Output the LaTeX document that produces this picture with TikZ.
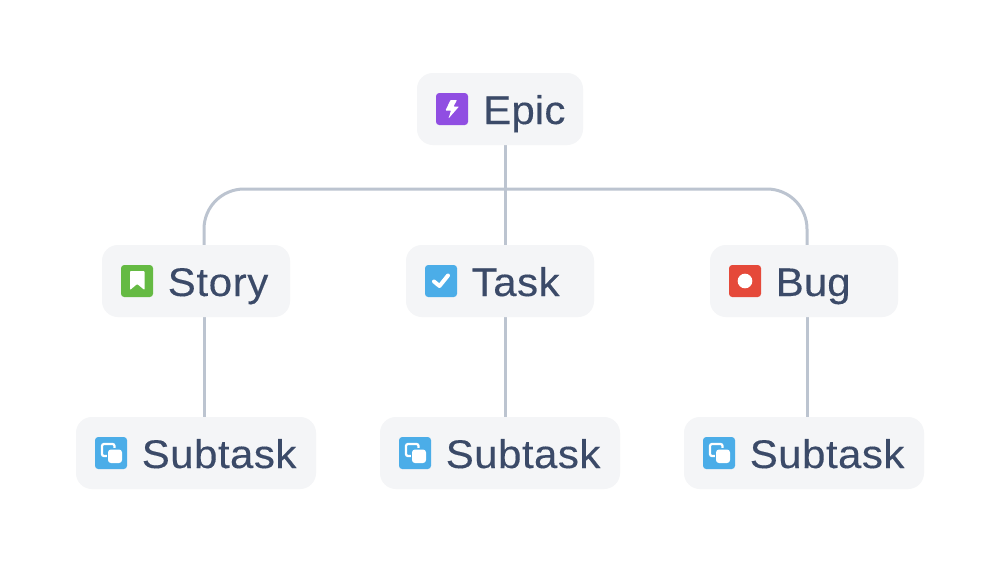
\documentclass[tikz,border=0pt]{standalone}
\usepackage{fontspec}
\setmainfont[FakeStretch=1.05,LetterSpace=1.2,FakeBold=0.25]{Liberation Sans}
\definecolor{boxfill}{HTML}{F4F5F7}
\definecolor{wire}{HTML}{BCC4D0}
\definecolor{ink}{HTML}{3B4A68}
\definecolor{epicc}{HTML}{904EE2}
\definecolor{storyc}{HTML}{65BA43}
\definecolor{taskc}{HTML}{4BADE8}
\definecolor{bugc}{HTML}{E5493A}
\tikzset{
  x=0.75pt,y=-0.75pt,
  card/.style={draw=none,fill=boxfill,rounded corners=12pt,inner sep=0pt,minimum height=54pt},
  wireline/.style={draw=wire,line width=2.25pt},
  badge/.style={draw=none,rounded corners=2.4pt,inner sep=0pt,minimum size=24pt},
  caption/.style={anchor=base west,inner sep=0pt,text=ink,font=\fontsize{30}{36}\selectfont},
  glyph/.style={fill=white,draw=none},
}
\begin{document}
\begin{tikzpicture}
\useasboundingbox (0,0) rectangle (1000,565);
\fill[white] (0,0) rectangle (1000,565);
% ports
\coordinate (epicport) at (505,145);
\coordinate (storytop) at (204,245);
\coordinate (storybot) at (204,317);
\coordinate (tasktop) at (505,245);
\coordinate (taskbot) at (505,317);
\coordinate (bugtop) at (807,245);
\coordinate (bugbot) at (807,317);
\coordinate (subatop) at (204,417);
\coordinate (subbtop) at (505,417);
\coordinate (subctop) at (807,417);
% connectors
\draw[wireline] (epicport) -- (tasktop);
\draw[wireline,rounded corners=30pt] (storytop) -- (204,189) -- (807,189) -- (bugtop);
\draw[wireline] (storybot) -- (subatop);
\draw[wireline] (taskbot) -- (subbtop);
\draw[wireline] (bugbot) -- (subctop);
% cards
\node[card,minimum width=124.5pt] (epic) at (500,109) {};
\node[card,minimum width=141pt] (story) at (196,281) {};
\node[card,minimum width=141pt] (task) at (500,281) {};
\node[card,minimum width=141pt] (bug) at (804,281) {};
\node[card,minimum width=180pt] (suba) at (196,453) {};
\node[card,minimum width=180pt] (subb) at (500,453) {};
\node[card,minimum width=180pt] (subc) at (804,453) {};
% labels
\node[caption] (epict) at (483,124) {\addfontfeatures{LetterSpace=0.4}Epic};
\node[caption] (storyt) at (167.5,296) {\addfontfeatures{LetterSpace=1.6}Story};
\node[caption] (taskt) at (471.5,296) {Task};
\node[caption] (bugt) at (775.5,296) {\addfontfeatures{LetterSpace=0.2}Bug};
\node[caption] (subat) at (141.5,468) {Subtask};
\node[caption] (subbt) at (445.5,468) {Subtask};
\node[caption] (subct) at (749.5,468) {Subtask};
% epic icon
\node[badge,fill=epicc] (epici) at (452,109) {};
\fill[glyph,rounded corners=0.5pt] (450.5,100) -- (445.5,110.5) -- (451,110.5) -- (448.5,118.5) -- (459,106.5) -- (453.5,106.5) -- (457,100) -- cycle;
% story icon
\node[badge,fill=storyc] (storyi) at (137,281) {};
\fill[glyph,rounded corners=0.6pt] (130,271) -- (144.5,271) -- (144.5,290) -- (137.2,284) -- (130,290) -- cycle;
% task icon
\node[badge,fill=taskc] (taski) at (441,281) {};
\draw[white,line width=3pt,line cap=round,line join=round] (434,281.5) -- (439.5,286) -- (448,275.5);
% bug icon
\node[badge,fill=bugc] (bugi) at (745,281) {};
\fill[white] (745,281) circle (5.5pt);
% subtask icons
\foreach \nm/\cx in {subai/111,subbi/415,subci/719}{
  \node[badge,fill=taskc] (\nm) at (\cx,453) {};
  \begin{scope}[shift={(\cx,453)}]
    \draw[white,line width=1.7pt,rounded corners=1.5pt] (-9,-9) rectangle (3.5,3);
    \fill[taskc] (-4.5,-5) rectangle (11.5,11);
    \fill[white,rounded corners=2.2pt] (-3,-3.5) rectangle (11,10);
  \end{scope}
}
\end{tikzpicture}
\end{document}
